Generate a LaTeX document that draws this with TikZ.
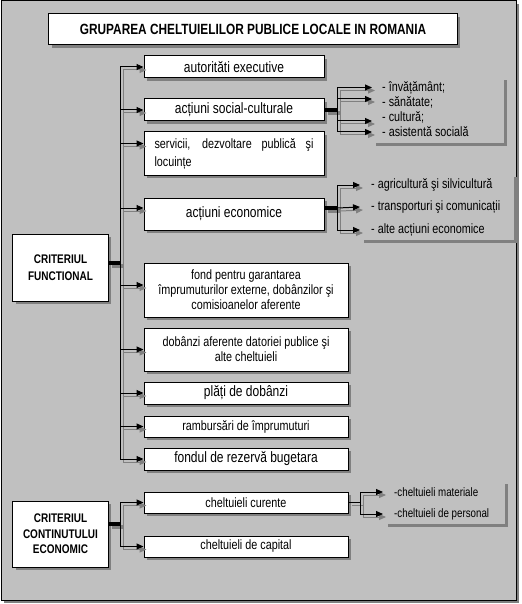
\documentclass[tikz,border=0pt]{standalone}
\usepackage{fontspec}
\setmainfont{Liberation Sans}[FakeStretch=0.8]
\usetikzlibrary{arrows.meta,shadows}
\definecolor{bg}{HTML}{C0C0C0}
\definecolor{shgray}{HTML}{808080}
\newcommand\bigt{\fontsize{15bp}{17bp}\selectfont}
\newcommand\smallt{\fontsize{13.5bp}{15bp}\selectfont}
\newcommand\tinyt{\fontsize{12.2bp}{14bp}\selectfont}
\newcommand\critt{\fontsize{12.5bp}{16.5bp}\selectfont\bfseries}
\tikzset{
  shd/.style={drop shadow={shadow xshift=3bp, shadow yshift=-3bp, fill=shgray, opacity=1}},
  box/.style={draw, line width=1bp, fill=white, shd, inner sep=2bp, align=center, font=\bigt},
  sbox/.style={box, font=\smallt},
  cbox/.style={box, font=\critt},
  listbg/.style={fill=bg, draw=none, shd, anchor=north west, inner sep=0pt},
  item/.style={inner sep=0pt, anchor=west, font=\smallt},
  shline/.style={draw=shgray, line width=1bp, transform canvas={shift={(3bp,-3bp)}}},
  mainline/.style={draw=black, line width=1bp},
  arr/.style={-{Triangle[length=7bp,width=6bp]}},
}
\begin{document}
\begin{tikzpicture}[x=1bp, y=-1bp]
\fill[white] (0,0) rectangle (522,604);
\useasboundingbox (0,0) rectangle (522,604);
% frame
\path[draw, line width=1bp, fill=bg, shd] (1,1) rectangle (516,600);
% shadow-only boxes behind the lists
\node[listbg, minimum width=131bp, minimum height=66bp] (lsoc) at (373,77) {};
\node[listbg, minimum width=153bp, minimum height=66bp] (leco) at (361,174) {};
\node[listbg, minimum width=120bp, minimum height=43bp] (lper) at (385,481) {};
% title
\node[box, font=\fontsize{14.8bp}{17bp}\selectfont\bfseries, minimum width=408bp, minimum height=31bp] (title) at (253,29.5) {GRUPAREA CHELTUIELILOR PUBLICE LOCALE IN ROMANIA};
% boxes
\node[box, minimum width=180bp, minimum height=22bp] (autor) at (234,67) {autorităti executive};
\node[box, minimum width=180bp, minimum height=22bp] (social) at (234,110) {acțiuni social-culturale};
\node[sbox, minimum width=180bp, minimum height=43bp, text width=159bp, align=justify, font=\fontsize{13.5bp}{18bp}\selectfont] (serv) at (234,153.5) {servicii, dezvoltare publică şi locuințe};
\node[box, minimum width=180bp, minimum height=32bp] (econ) at (234,214) {acțiuni economice};
\node[cbox, minimum width=95bp, minimum height=67bp] (critf) at (60.5,267.5) {CRITERIUL\\FUNCTIONAL};
\node[sbox, minimum width=204bp, minimum height=54bp] (fond) at (246,290) {fond pentru garantarea\\împrumuturilor externe, dobânzilor şi\\comisioanelor aferente};
\node[sbox, minimum width=204bp, minimum height=43bp] (dob) at (246,349.5) {dobânzi aferente datoriei publice şi\\alte cheltuieli};
\node[box, minimum width=204bp, minimum height=22bp] (plati) at (246,393) {plăți de dobânzi};
\node[sbox, minimum width=204bp, minimum height=21bp] (ramb) at (246,426.5) {rambursări de împrumuturi};
\node[box, minimum width=204bp, minimum height=22bp] (fondul) at (246,459) {fondul de rezervă bugetara};
\node[sbox, minimum width=204bp, minimum height=21bp] (curente) at (246,502.5) {cheltuieli curente};
\node[sbox, minimum width=204bp, minimum height=21bp] (capital) at (246,546.5) {cheltuieli de capital};
\node[cbox, minimum width=95bp, minimum height=66bp, font=\fontsize{12.5bp}{15.5bp}\selectfont\bfseries] (crite) at (60.5,534) {CRITERIUL\\CONTINUTULUI\\ECONOMIC};
% list items
\node[item] (s1) at (382,87.5) {- învățământ;};
\node[item] (s2) at (382,102) {- sănătate;};
\node[item] (s3) at (382,117) {- cultură;};
\node[item] (s4) at (382,132) {- asistentă socială};
\node[item] (e1) at (371,185) {- agricultură şi silvicultură};
\node[item] (e2) at (371,207) {- transporturi şi comunicații};
\node[item] (e3) at (371,230) {- alte acțiuni economice};
\node[item, font=\tinyt] (p1) at (394,492) {-cheltuieli materiale};
\node[item, font=\tinyt] (p2) at (394,514) {-cheltuieli de personal};
% junction coordinates
\coordinate (spf) at ([xshift=11.5bp,yshift=4.5bp]critf.east);
\coordinate (servin) at ([yshift=10bp]serv.west);
\coordinate (econin) at ([yshift=6bp]econ.west);
\coordinate (fondin) at ([yshift=5bp]fond.west);
\coordinate (sps) at ([xshift=13bp]social.east);
\coordinate (s1t) at ([xshift=-10bp]s1.west);
\coordinate (s2t) at ([xshift=-10bp,yshift=3bp]s2.west);
\coordinate (s3t) at ([xshift=-10bp,yshift=-4bp]s3.west);
\coordinate (s4t) at ([xshift=-10bp]s4.west);
\coordinate (econout) at ([yshift=6bp]econ.east);
\coordinate (spe) at ([xshift=13bp]econout);
\coordinate (e1t) at ([xshift=-11bp]e1.west);
\coordinate (e2t) at ([xshift=-11bp]e2.west);
\coordinate (e3t) at ([xshift=-11bp]e3.west);
\coordinate (spp) at ([xshift=12bp]curente.east);
\coordinate (p1t) at ([xshift=-11bp]p1.west);
\coordinate (p2t) at ([xshift=-11bp]p2.west);
\coordinate (spc) at ([xshift=11.5bp,yshift=10bp]crite.east);
% connectors: shadow first, then black
\foreach \st in {shline,mainline}{
  \draw[\st, line width=4bp] ([yshift=4.5bp]critf.east) -- (spf);
  \draw[\st] (spf |- autor.west) -- (spf |- fondul.west);
  \draw[\st, arr] (spf |- autor.west) -- (autor.west);
  \draw[\st, arr] (spf |- social.west) -- (social.west);
  \draw[\st, arr] (spf |- servin) -- (servin);
  \draw[\st, arr] (spf |- econin) -- (econin);
  \draw[\st, arr] (spf |- fondin) -- (fondin);
  \draw[\st, arr] (spf |- dob.west) -- (dob.west);
  \draw[\st, arr] (spf |- plati.west) -- (plati.west);
  \draw[\st, arr] (spf |- ramb.west) -- (ramb.west);
  \draw[\st, arr] (spf |- fondul.west) -- (fondul.west);
  % social list
  \draw[\st, line width=4bp] (social.east) -- (sps);
  \draw[\st, arr] (sps) |- (s1t);
  \draw[\st, arr] (sps) |- (s2t);
  \draw[\st, arr] (sps) |- (s3t);
  \draw[\st, arr] (sps) |- (s4t);
  % economic list
  \draw[\st, line width=4bp] (econout) -- (spe);
  \draw[\st, arr] (spe) |- (e1t);
  \draw[\st, arr] (spe) -- (e2t);
  \draw[\st, arr] (spe) |- (e3t);
  % personal list
  \draw[\st] (curente.east) -- (spp);
  \draw[\st, arr] (spp) |- (p1t);
  \draw[\st, arr] (spp) |- (p2t);
  % economic criterion
  \draw[\st, line width=4bp] ([yshift=10bp]crite.east) -- (spc);
  \draw[\st, arr] (spc) |- (curente.west);
  \draw[\st, arr] (spc) |- (capital.west);
}
\end{tikzpicture}
\end{document}
